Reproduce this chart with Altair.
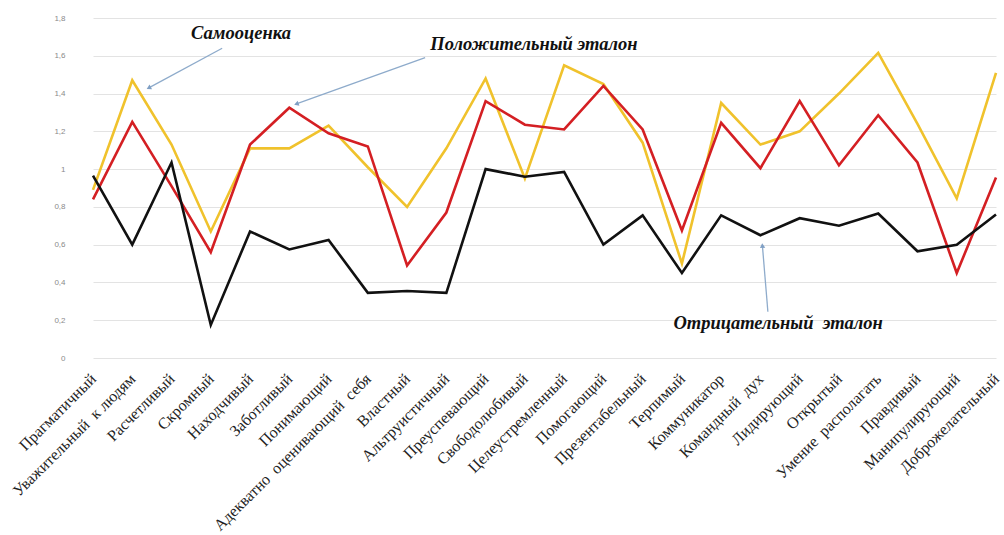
import altair as alt
import pandas as pd

categories = [
    "Прагматичный", "Уважительный\u00a0\u00a0к людям", "Расчетливый", "Скромный", "Находчивый",
    "Заботливый", "Понимающий", "Адекватно\u00a0\u00a0оценивающий\u00a0\u00a0себя", "Властный",
    "Альтруистичный", "Преуспевающий", "Свободолюбивый", "Целеустремленный",
    "Помогающий", "Презентабельный", "Терпимый", "Коммуникатор", "Командный\u00a0\u00a0дух",
    "Лидирующий", "Открытый", "Умение\u00a0\u00a0располагать", "Правдивый", "Манипулирующий",
    "Доброжелательный",
]
samo = [0.89, 1.47, 1.13, 0.67, 1.11, 1.11, 1.23, 1.01, 0.80, 1.11, 1.48, 0.95,
        1.55, 1.45, 1.14, 0.50, 1.35, 1.13, 1.20, 1.40, 1.615, 1.24, 0.845, 1.51]
pos = [0.84, 1.25, 0.91, 0.56, 1.13, 1.325, 1.19, 1.12, 0.49, 0.77, 1.36, 1.235,
       1.21, 1.44, 1.21, 0.675, 1.245, 1.005, 1.36, 1.02, 1.285, 1.035, 0.45, 0.955]
neg = [0.965, 0.60, 1.035, 0.175, 0.67, 0.575, 0.625, 0.345, 0.355, 0.345, 1.0, 0.96,
       0.985, 0.60, 0.755, 0.45, 0.755, 0.65, 0.74, 0.70, 0.765, 0.565, 0.60, 0.76]

series_names = ["Самооценка", "Положительный эталон", "Отрицательный эталон"]
series_colors = ["#f0c22c", "#d41f23", "#111111"]

ann_text = ["Самооценка", "Положительный эталон", "Отрицательный\u00a0\u00a0эталон"]
ann_x = [3.77, 11.23, 17.45]
ann_y = [1.72, 1.66, 0.185]
arr_x1 = [3.29, 8.46, 17.19]
arr_y1 = [1.64, 1.59, 0.245]
arr_x2 = [1.42, 5.18, 17.05]
arr_y2 = [1.43, 1.345, 0.595]
arr_angle = [242, 250, 355]

rows = []
for name, vals in zip(series_names, [samo, pos, neg]):
    for c, v in zip(categories, vals):
        rows.append({"cat": c, "val": v, "series": name})
df = pd.DataFrame(rows)

ann_df = pd.DataFrame({"t": ann_text, "x": ann_x, "val": ann_y})
arr_df = pd.DataFrame({"x": arr_x1, "val": arr_y1, "x2": arr_x2, "y2": arr_y2, "a": arr_angle})
head_df = pd.DataFrame({"x": arr_x2, "val": arr_y2, "a": arr_angle})

x_range = [19, 922]
y_scale = alt.Scale(domain=[0, 1.8], nice=False)

x_enc = alt.X("cat:N", sort=categories, title=None,
              scale=alt.Scale(type="point", range=x_range, padding=0),
              axis=alt.Axis(labelAngle=-45, labelAlign="right", labelBaseline="middle",
                            labelFont="Liberation Serif", labelFontSize=16,
                            labelColor="#222222", domain=False, ticks=False,
                            grid=False, labelPadding=18, labelOverlap=False,
                            labelLimit=400))
y_enc = alt.Y("val:Q", scale=y_scale, title=None,
              axis=alt.Axis(values=[0, 0.2, 0.4, 0.6, 0.8, 1.0, 1.2, 1.4, 1.6, 1.8],
                            labelExpr="replace(format(datum.value, '~g'), '.', ',')",
                            labelFont="Liberation Sans", labelFontSize=8,
                            labelColor="#8a8a8a", domain=False, ticks=False,
                            gridColor="#e3e3e3", gridWidth=1, labelPadding=9))

color_enc = alt.Color("series:N", scale=alt.Scale(domain=series_names, range=series_colors),
                      legend=None)

lines = []
for name in series_names:
    lines.append(
        alt.Chart(df).transform_filter(alt.datum.series == name)
        .mark_line(strokeWidth=2.6)
        .encode(x=x_enc, y=y_enc, color=color_enc)
    )
base = alt.layer(*lines)

qx = alt.Scale(domain=[0, 23], range=x_range)

arrows = alt.Chart(arr_df).mark_rule(color="#8eabcb", strokeWidth=1.3).encode(
    x=alt.X("x:Q", scale=qx, axis=None),
    y=y_enc,
    x2="x2:Q", y2="y2:Q",
)
heads = alt.Chart(head_df).mark_point(shape="triangle-up", filled=True, color="#7f9fc4",
                                      size=28, opacity=1).encode(
    x=alt.X("x:Q", scale=qx, axis=None),
    y=y_enc,
    angle=alt.Angle("a:Q", scale=None),
)
labels = alt.Chart(ann_df).mark_text(font="Liberation Serif", fontStyle="italic",
                                     fontWeight="bold", fontSize=18.5, color="#111111",
                                     align="center", baseline="middle").encode(
    x=alt.X("x:Q", scale=qx, axis=None),
    y=y_enc,
    text="t:N",
)
ann = alt.layer(arrows, heads, labels)

chart = alt.layer(base, ann).resolve_scale(x="independent").properties(
    width=928, height=340,
    background="white",
    autosize=alt.AutoSizeParams(type="none"),
    padding={"left": 74, "top": 18, "right": 2, "bottom": 177},
).configure_view(stroke=None)

chart.save("out.html", embed_options={"renderer": "svg", "actions": False})
